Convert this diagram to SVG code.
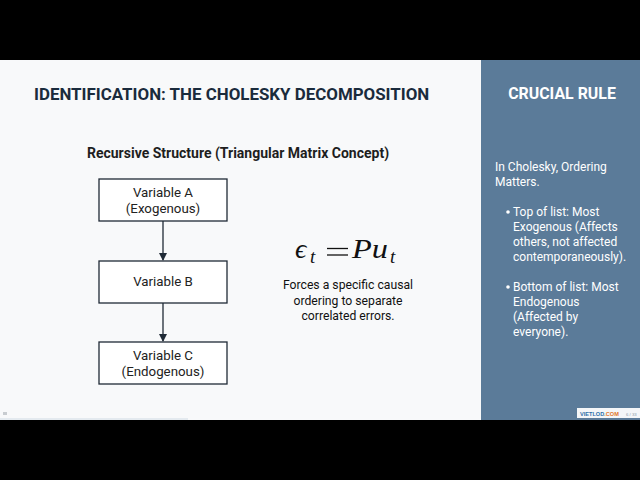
<svg xmlns="http://www.w3.org/2000/svg" width="640" height="480" viewBox="0 0 640 480">
<style>
.t{font-family:Roboto,"Liberation Sans",sans-serif}
.node rect{fill:#ffffff;stroke:#1f2a36;stroke-width:1.3}
.node text{font-family:Roboto,"Liberation Sans",sans-serif;font-size:13.3px;fill:#222;text-anchor:middle}
.cap{font-family:Roboto,"Liberation Sans",sans-serif;font-size:12.2px;fill:#111;text-anchor:middle}
.side{font-family:Roboto,"Liberation Sans",sans-serif;font-size:12px;fill:#ffffff}
.math{font-family:"Liberation Serif","DejaVu Serif",serif;font-size:28px;fill:#111}
.sub{font-family:"Liberation Serif","DejaVu Serif",serif;font-size:19px;fill:#111;font-style:italic}
</style>
<defs>
<marker id="ah" markerWidth="8" markerHeight="8" refX="7" refY="4" orient="auto" markerUnits="userSpaceOnUse">
<path d="M0,0 L8,4 L0,8 Z" fill="#1f2a36"/>
</marker>
</defs>
<rect x="0" y="0" width="640" height="480" fill="#000"/>
<rect x="0" y="60" width="481" height="360" fill="#f8f9fa"/>
<rect x="481" y="60" width="159" height="360" fill="#5b7b99"/>
<text class="t" x="34" y="100" font-size="16.9" font-weight="bold" fill="#1a2b3c">IDENTIFICATION: THE CHOLESKY DECOMPOSITION</text>
<text class="t" x="238" y="158" font-size="14" font-weight="bold" fill="#1e1e1e" text-anchor="middle">Recursive Structure (Triangular Matrix Concept)</text>
<g id="connectors" stroke="#1f2a36" stroke-width="1.3" fill="none">
<line x1="163" y1="221" x2="163" y2="260" marker-end="url(#ah)"/>
<line x1="163" y1="303" x2="163" y2="341" marker-end="url(#ah)"/>
</g>
<g id="nodeA" class="node">
<rect x="99" y="179" width="128" height="42"/>
<text x="163" y="197">Variable A</text>
<text x="163" y="213">(Exogenous)</text>
</g>
<g id="nodeB" class="node">
<rect x="99" y="261" width="128" height="42"/>
<text x="163" y="286">Variable B</text>
</g>
<g id="nodeC" class="node">
<rect x="99" y="342" width="128" height="42"/>
<text x="163" y="360">Variable C</text>
<text x="163" y="376">(Endogenous)</text>
</g>
<g id="formula">
<text class="math" x="295" y="258" font-style="italic" font-size="29">ϵ</text>
<text class="sub" x="310" y="263">t</text>
<g stroke="#111" stroke-width="1.3">
<line x1="327" y1="248.5" x2="348" y2="248.5"/>
<line x1="327" y1="255" x2="348" y2="255"/>
</g>
<text class="math" x="352" y="258" font-style="italic" textLength="36" lengthAdjust="spacingAndGlyphs">Pu</text>
<text class="sub" x="390" y="263">t</text>
<text class="cap" x="348" y="289">Forces a specific causal</text>
<text class="cap" x="348" y="305">ordering to separate</text>
<text class="cap" x="348" y="320">correlated errors.</text>
</g>
<g id="panel">
<text class="t" x="562" y="99" font-size="15.9" font-weight="bold" fill="#ffffff" text-anchor="middle">CRUCIAL RULE</text>
<text class="side" x="495" y="171">In Cholesky, Ordering</text>
<text class="side" x="495" y="186">Matters.</text>
<circle cx="508" cy="212" r="1.8" fill="#fff"/>
<text class="side" x="513" y="216">Top of list: Most</text>
<text class="side" x="513" y="231">Exogenous (Affects</text>
<text class="side" x="513" y="246">others, not affected</text>
<text class="side" x="513" y="261">contemporaneously).</text>
<circle cx="508" cy="287" r="1.8" fill="#fff"/>
<text class="side" x="513" y="291">Bottom of list: Most</text>
<text class="side" x="513" y="306">Endogenous</text>
<text class="side" x="513" y="321">(Affected by</text>
<text class="side" x="513" y="336">everyone).</text>
</g>
<g id="logo">
<rect x="577" y="408" width="63" height="10" fill="#f4f6f8"/>
<text y="415.5" font-family="'Liberation Sans',sans-serif" font-size="5.6" font-weight="bold"><tspan x="580" fill="#2f6fa8">VIETLOD</tspan><tspan fill="#e0742a">.COM</tspan><tspan x="626" font-size="4.3" font-weight="normal" fill="#8a9aaa">6 / 33</tspan></text>
</g>
<rect x="3" y="412" width="4" height="3" fill="#c8ccd0"/>
<rect x="0" y="418.5" width="188" height="1" fill="#d0dbe4"/>
</svg>
